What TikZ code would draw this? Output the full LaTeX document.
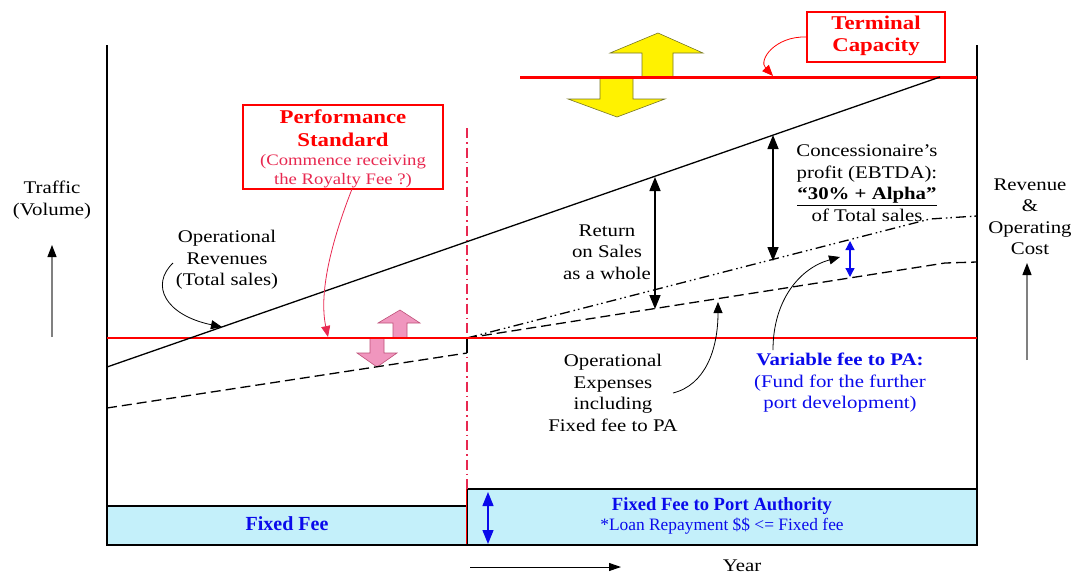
\documentclass[tikz,border=0pt]{standalone}
\usepackage{fontspec}
\setmainfont{Liberation Serif}[FakeStretch=1.17]
\newfontfamily\plainserif{Liberation Serif}
\usetikzlibrary{arrows.meta}
\definecolor{capred}{RGB}{255,0,0}
\definecolor{dashred}{RGB}{232,40,80}
\definecolor{feeblue}{RGB}{10,10,235}
\definecolor{boxcyan}{RGB}{196,240,250}
\definecolor{pinkfill}{RGB}{240,150,190}
\definecolor{pinkedge}{RGB}{190,80,120}
\definecolor{yellowedge}{RGB}{120,120,40}
\tikzset{
  lbl/.style={inner sep=0pt, align=center, font=\fontsize{17.8}{21.5}\selectfont},
  axisline/.style={line width=2.5pt, black},
  tipA/.style={-{Triangle[length=11pt,width=9pt]}},
  dbl/.style={line width=1.5pt, {Triangle[length=14pt,width=11pt]}-{Triangle[length=14pt,width=11pt]}},
  scaleaxis/.style={gray, line width=1.2pt, -{Triangle[length=12pt,width=9pt,color=black]}},
  redbox/.style={draw=capred, line width=1.3pt, fill=white, inner sep=0pt},
}
\begin{document}
\begin{tikzpicture}[x=1pt,y=-1pt]
\useasboundingbox (0,0) rectangle (1080,574);

% key points of the chart
\coordinate (LTop) at (107,45);
\coordinate (LBot) at (107,545);
\coordinate (RTop) at (977,45);
\coordinate (RBot) at (977,545);
\coordinate (Split) at (467,338);

% bottom fee bands
\node[draw=black, line width=1.2pt, fill=boxcyan, minimum width=360pt, minimum height=39pt, inner sep=0pt] (fixedfee) at (287,525.5) {};
\node[draw=black, line width=1.2pt, fill=boxcyan, minimum width=510pt, minimum height=56pt, inner sep=0pt] (pafee) at (722,517) {};
\node[inner sep=0pt, font=\plainserif\bfseries\fontsize{20}{22}\selectfont, text=feeblue] (fftext) at (287,524) {Fixed Fee};
\node[inner sep=0pt, font=\plainserif\bfseries\fontsize{18.6}{21}\selectfont, text=feeblue] (patitle) at (722,506) {Fixed Fee to Port Authority};
\node[inner sep=0pt, font=\plainserif\fontsize{17.4}{21}\selectfont, text=feeblue] (patext) at (722,526) {*Loan Repayment \$\$ <= Fixed fee};
\draw[capred, line width=0.8pt] (pafee.north west) -- (pafee.south west);
\coordinate (bA) at (488,492);
\coordinate (bB) at (488,544);
\draw[dbl, feeblue, line width=1.3pt] (bA) -- (bB);

% frame
\draw[axisline] (LTop) -- (LBot);
\draw[axisline] (RTop) -- (RBot);
\draw[line width=1.3pt] (LBot) -- (RBot);

% split year (dash-dot red)
\coordinate (SplitTop) at (467,128);
\coordinate (SplitBot) at (467,489);
\draw[dashred, line width=1.4pt, dash pattern=on 10pt off 4pt on 1.5pt off 4pt] (SplitTop) -- (SplitBot);

% yellow arrows at terminal capacity
\filldraw[fill=yellow, draw=yellowedge, line width=0.6pt]
  (642,78) -- (642,53) -- (610,53) -- (658,33) -- (703,53) -- (673,53) -- (673,78) -- cycle;
\filldraw[fill=yellow, draw=yellowedge, line width=0.6pt]
  (600,78) -- (633,78) -- (633,99) -- (665,99) -- (617,117) -- (568,99) -- (600,99) -- cycle;

% pink arrows at performance standard
\filldraw[fill=pinkfill, draw=pinkedge, line width=0.6pt]
  (393,338) -- (393,323) -- (378,323) -- (400,310) -- (420,323) -- (407,323) -- (407,338) -- cycle;
\filldraw[fill=pinkfill, draw=pinkedge, line width=0.6pt]
  (370,338) -- (384,338) -- (384,353) -- (397,353) -- (377,367) -- (357,353) -- (370,353) -- cycle;

% operating cost before the split
\coordinate (OcA) at (107,408);
\coordinate (OcB) at (467,353);
\draw[line width=1.3pt, dash pattern=on 10pt off 5pt] (OcA) -- (OcB);
\draw[line width=1.3pt] (OcB) -- (Split);

% operating cost after the split
\coordinate (OcC) at (945,263);
\coordinate (OcD) at (977,262);
\draw[line width=1.3pt, dash pattern=on 10pt off 5pt] (Split) -- (OcC) -- (OcD);

% operating cost plus variable fee
\coordinate (VfC) at (930,219);
\coordinate (VfD) at (977,216);
\draw[line width=1.3pt, dash pattern=on 10pt off 4pt on 1.5pt off 3pt on 1.5pt off 4pt] (Split) -- (VfC) -- (VfD);

% performance standard and terminal capacity
\coordinate (PsA) at (107,338);
\coordinate (PsB) at (977,338);
\draw[capred, line width=2pt] (PsA) -- (PsB);
\coordinate (TcA) at (520,77);
\coordinate (TcB) at (977,77);
\draw[capred, line width=3pt] (TcA) -- (TcB);

% operational revenues
\coordinate (RvA) at (107,367);
\coordinate (RvB) at (940,77);
\draw[line width=1.3pt] (RvA) -- (RvB);

% margin arrows
\coordinate (rsT) at (655,177);
\coordinate (rsB) at (655,309);
\draw[dbl] (rsT) -- (rsB);
\coordinate (cpT) at (773,135);
\coordinate (cpB) at (773,261);
\draw[dbl] (cpT) -- (cpB);
\coordinate (vfT) at (850,241);
\coordinate (vfB) at (850,277);
\draw[feeblue, line width=1.3pt, {Triangle[length=9pt,width=9pt]}-{Triangle[length=9pt,width=9pt]}] (vfT) -- (vfB);

% callout boxes
\node[redbox, minimum width=138pt, minimum height=50pt] (tcbox) at (876,37) {};
\node[inner sep=0pt, align=center, text=capred, font=\bfseries\fontsize{19.5}{22}\selectfont] (tctext) at (876,36) {Terminal\\Capacity};
\node[redbox, minimum width=200pt, minimum height=84pt] (psbox) at (343,147) {};
\node[inner sep=0pt, align=center, text=capred, font=\bfseries\fontsize{19.5}{23}\selectfont] (pstitle) at (343,128) {Performance\\Standard};
\node[inner sep=0pt, align=center, text=dashred, font=\fontsize{16}{19}\selectfont] (pssub) at (343,171.5) {(Commence receiving\\the Royalty Fee ?)};

% text labels
\node[lbl] (traffic) at (52,200) {Traffic\\(Volume)};
\node[lbl] (revcost) at (1030,217) {Revenue\\\&\\Operating\\Cost};
\node[lbl] (oprev) at (227,260) {Operational\\Revenues\\(Total sales)};
\node[lbl] (ros) at (607,252) {Return\\on Sales\\as a whole};
\node[lbl] (opexp) at (613,393) {Operational\\Expenses\\including\\Fixed fee to PA};
\node[lbl] (profit) at (867,183) {Concessionaire's\\profit (EBTDA):\\\textbf{\underline{“30\% + Alpha”}}\\of Total sales};
\node[lbl, text=feeblue] (varfee) at (840,383) {\textbf{Variable fee to PA:}\\(Fund for the further\\port development)};
\node[lbl] (year) at (742,566) {Year};

% scale arrows
\coordinate (tA) at (52,337);
\coordinate (tB) at (52,245);
\draw[scaleaxis] (tA) -- (tB);
\coordinate (cA) at (1027,360);
\coordinate (cB) at (1027,263);
\draw[scaleaxis] (cA) -- (cB);
\coordinate (yA) at (470,567);
\coordinate (yB) at (621,567);
\draw[line width=1pt, -{Triangle[length=12pt,width=8pt]}] (yA) -- (yB);

% curved callout arrows
\coordinate (tcTip) at (773,76);
\draw[capred, line width=0.8pt, tipA] (tcbox.west) .. controls (775,36) and (758,60) .. (tcTip);
\coordinate (psFrom) at (352,189);
\coordinate (psTip) at (328,337);
\draw[dashred, line width=0.8pt, tipA] (psFrom) .. controls (334,235) and (318,290) .. (psTip);
\coordinate (orFrom) at (173,263);
\coordinate (orTip) at (222,327);
\draw[line width=0.8pt, tipA] (orFrom) .. controls (150,285) and (165,315) .. (orTip);
\coordinate (oeFrom) at (673,393);
\coordinate (oeTip) at (718,302);
\draw[line width=0.8pt, tipA] (oeFrom) .. controls (705,385) and (718,350) .. (oeTip);
\coordinate (vfFrom) at (773,350);
\coordinate (vfTip) at (840,257);
\draw[line width=0.8pt, tipA] (vfFrom) .. controls (773,300) and (800,268) .. (vfTip);
\end{tikzpicture}
\end{document}
